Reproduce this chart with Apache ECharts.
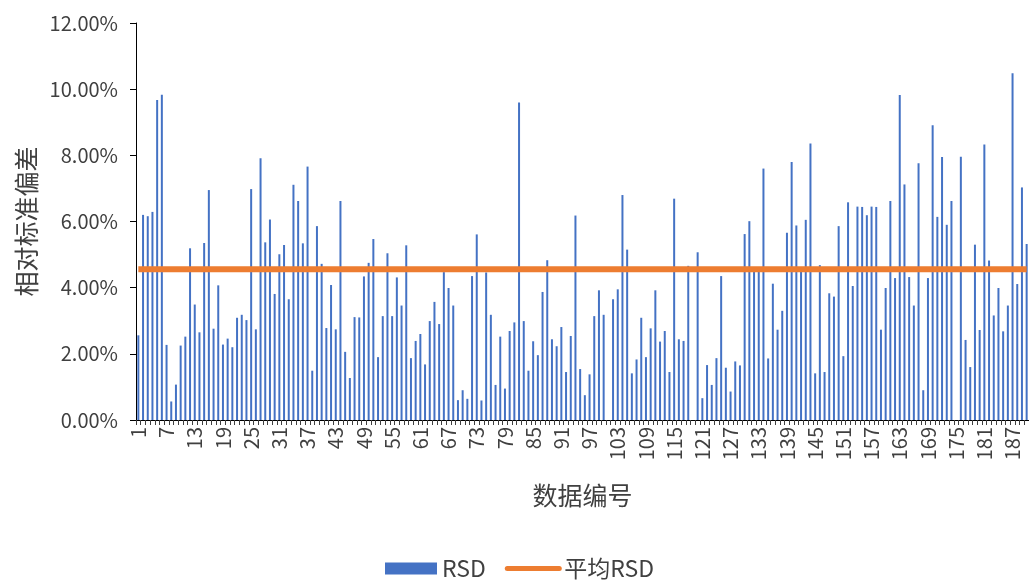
<!DOCTYPE html>
<html>
<head>
<meta charset="utf-8">
<script src="https://cdn.jsdelivr.net/npm/echarts@6/dist/echarts.min.js"></script>
<style>
html,body{margin:0;padding:0;background:#fff;}
#chart{width:1029px;height:580px;}
</style>
</head>
<body>
<div id="chart"></div>
<script>
// RSD values (%) for data numbers 1..190
const rsdValues = [
  2.56, 6.20, 6.16, 6.29, 9.67, 9.83, 2.27, 0.56, 1.07, 2.25,
  2.52, 5.19, 3.49, 2.65, 5.35, 6.95, 2.76, 4.07, 2.28, 2.46,
  2.20, 3.09, 3.18, 3.02, 6.98, 2.74, 7.91, 5.37, 6.06, 3.81,
  5.01, 5.29, 3.65, 7.11, 6.62, 5.34, 7.66, 1.49, 5.86, 4.72,
  2.78, 4.08, 2.74, 6.62, 2.06, 1.27, 3.11, 3.10, 4.34, 4.75,
  5.47, 1.90, 3.14, 5.04, 3.14, 4.31, 3.46, 5.28, 1.87, 2.39,
  2.60, 1.68, 2.99, 3.57, 2.90, 4.47, 3.99, 3.46, 0.60, 0.90,
  0.64, 4.35, 5.61, 0.59, 4.46, 3.18, 1.06, 2.52, 0.95, 2.69,
  2.95, 9.60, 2.99, 1.49, 2.38, 1.96, 3.87, 4.83, 2.44, 2.23,
  2.81, 1.45, 2.54, 6.18, 1.54, 0.75, 1.38, 3.14, 3.92, 3.18,
  0,    3.65, 3.95, 6.80, 5.15, 1.41, 1.83, 3.09, 1.90, 2.77,
  3.92, 2.37, 2.69, 1.45, 6.69, 2.44, 2.39, 4.66, 0,    5.07,
  0.66, 1.66, 1.06, 1.87, 4.35, 1.58, 0.86, 1.77, 1.65, 5.62,
  6.01, 4.52, 4.52, 7.60, 1.86, 4.12, 2.73, 3.30, 5.66, 7.80,
  5.88, 4.52, 6.05, 8.36, 1.41, 4.68, 1.45, 3.83, 3.73, 5.86,
  1.93, 6.58, 4.05, 6.45, 6.44, 6.19, 6.45, 6.44, 2.73, 3.99,
  6.62, 4.29, 9.82, 7.12, 4.32, 3.46, 7.76, 0.90, 4.29, 8.91,
  6.14, 7.95, 5.90, 6.62, 0,    7.96, 2.42, 1.60, 5.30, 2.72,
  8.33, 4.82, 3.16, 3.99, 2.68, 3.46, 10.48, 4.11, 7.03, 5.32
];
// Data numbers (category labels)
const dataNumbers = rsdValues.map((_, i) => String(i + 1));
// Average RSD (%)
const avgRSD = 4.56;
const avgValues = dataNumbers.map(() => avgRSD);
// Y-axis range and tick step (%)
const yMin = 0, yMax = 12, yStep = 2;
const seriesNames = ['RSD', '平均RSD'];
const xTitle = '数据编号';
const yTitle = '相对标准偏差';

const FONT = "'Noto Sans CJK SC', 'Noto Sans', sans-serif";
const chart = echarts.init(document.getElementById('chart'), null, {renderer: 'canvas'});
chart.setOption({
  animation: false,
  backgroundColor: '#fff',
  textStyle: {fontFamily: FONT},
  grid: {left: 136, right: -2, top: 23, bottom: 160, containLabel: false},
  legend: {
    left: 385, top: 557, padding: 0,
    itemWidth: 52, itemHeight: 12, itemGap: 19,
    textStyle: {fontFamily: FONT, fontSize: 23, color: '#404040'},
    data: [
      {name: seriesNames[0], icon: 'rect'},
      {name: seriesNames[1], lineStyle: {width: 5, cap: 'round'}, itemStyle: {opacity: 0}}
    ]
  },
  xAxis: {
    type: 'category',
    data: dataNumbers,
    boundaryGap: true,
    name: xTitle,
    nameLocation: 'middle',
    nameGap: 63,
    nameTextStyle: {fontFamily: FONT, fontSize: 25, color: '#404040'},
    axisLine: {lineStyle: {color: '#000', width: 1}},
    axisTick: {show: true, interval: 0, length: 5, lineStyle: {color: '#404040'}},
    axisLabel: {interval: 5, rotate: 90, margin: 7, fontFamily: FONT, fontSize: 20, color: '#404040'},
    splitLine: {show: false}
  },
  yAxis: {
    type: 'value',
    min: yMin, max: yMax, interval: yStep,
    name: yTitle,
    nameLocation: 'middle',
    nameRotate: 90,
    nameGap: 94,
    nameTextStyle: {fontFamily: FONT, fontSize: 25, color: '#404040'},
    axisLine: {show: true, lineStyle: {color: '#000', width: 1}},
    axisTick: {show: true, length: 6, lineStyle: {color: '#000'}},
    axisLabel: {margin: 18, fontFamily: FONT, fontSize: 20, color: '#404040',
      formatter: v => v.toFixed(2) + '%'},
    splitLine: {show: false}
  },
  series: [
    {
      name: seriesNames[0],
      type: 'bar',
      data: rsdValues,
      barWidth: 2,
      itemStyle: {color: '#4472C4'}
    },
    {
      name: seriesNames[1],
      type: 'line',
      data: avgValues,
      symbol: 'none',
      lineStyle: {color: '#ED7D31', width: 6},
      itemStyle: {color: '#ED7D31'},
      z: 3
    }
  ]
});
</script>
</body>
</html>
